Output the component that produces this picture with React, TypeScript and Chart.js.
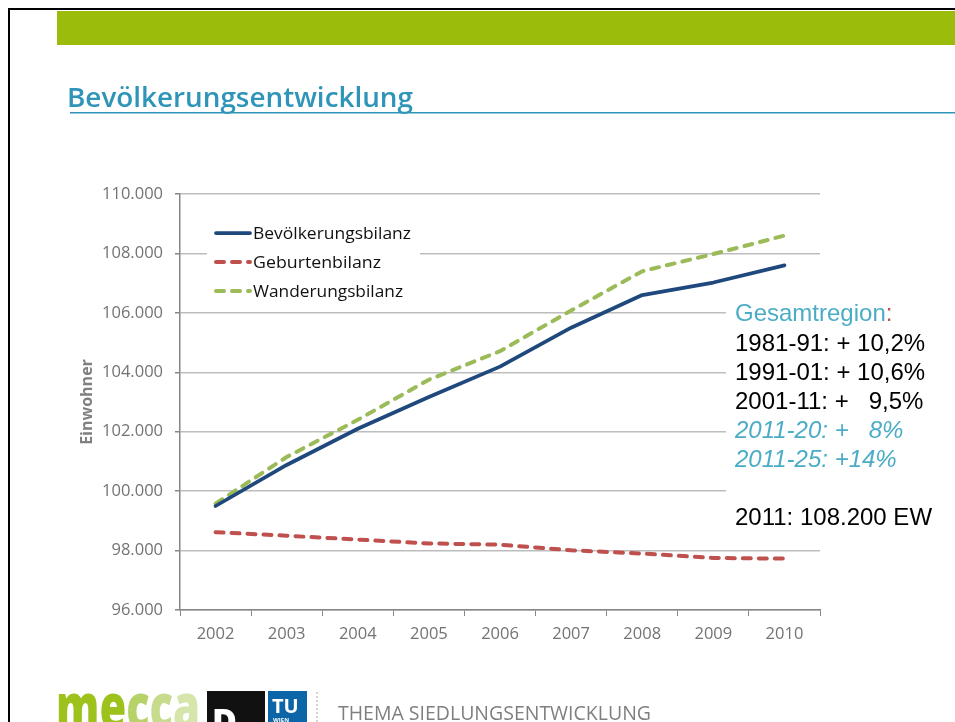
import React, { useEffect, useRef } from 'react';
import { Chart, registerables } from 'chart.js';

Chart.register(...registerables);

// ---- data ----
const years = ['2002', '2003', '2004', '2005', '2006', '2007', '2008', '2009', '2010'];
const bevoelkerungsbilanz = [99500, 100880, 102100, 103170, 104190, 105500, 106600, 107020, 107600];
const geburtenbilanz = [98620, 98500, 98370, 98240, 98200, 98010, 97900, 97750, 97730];
const wanderungsbilanz = [99580, 101150, 102400, 103750, 104710, 106080, 107400, 107980, 108600];
const yTickValues = [96000, 98000, 100000, 102000, 104000, 106000, 108000, 110000];
const yTickLabels = ['96.000', '98.000', '100.000', '102.000', '104.000', '106.000', '108.000', '110.000'];
const seriesNames = ['Bevölkerungsbilanz', 'Geburtenbilanz', 'Wanderungsbilanz'];
const axisTitle = 'Einwohner';
const slideTitle = 'Bevölkerungsentwicklung';
const footerText = 'THEMA SIEDLUNGSENTWICKLUNG';
const noteLines = ['1981-91: + 10,2%', '1991-01: + 10,6%', '2001-11: +   9,5%'];
const noteForecast = ['2011-20: +   8%', '2011-25: +14%'];
const noteTotal = '2011: 108.200 EW';

const COLORS = ['#1f497d', '#c0504d', '#9bbb59'];

export default function App() {
  const canvasRef = useRef<HTMLCanvasElement | null>(null);

  useEffect(() => {
    if (!canvasRef.current) return;
    const chart = new Chart(canvasRef.current, {
      type: 'line',
      data: {
        labels: years,
        datasets: [
          {
            label: seriesNames[0],
            data: bevoelkerungsbilanz,
            borderColor: COLORS[0],
            backgroundColor: COLORS[0],
            borderWidth: 3.75,
            pointRadius: 0,
            tension: 0,
            borderCapStyle: 'round',
            borderJoinStyle: 'round',
          },
          {
            label: seriesNames[1],
            data: geburtenbilanz,
            borderColor: COLORS[1],
            backgroundColor: COLORS[1],
            borderWidth: 4,
            borderDash: [8, 8],
            pointRadius: 0,
            tension: 0,
            borderCapStyle: 'round',
          },
          {
            label: seriesNames[2],
            data: wanderungsbilanz,
            borderColor: COLORS[2],
            backgroundColor: COLORS[2],
            borderWidth: 4,
            borderDash: [8, 8],
            pointRadius: 0,
            tension: 0,
            borderCapStyle: 'round',
          },
        ],
      },
      options: {
        responsive: false,
        animation: false,
        devicePixelRatio: 1,
        layout: { padding: { left: 74, right: 135, top: 194, bottom: 72 } },
        plugins: { legend: { display: false }, tooltip: { enabled: false } },
        scales: {
          x: {
            type: 'category',
            offset: true,
            grid: {
              display: true,
              drawOnChartArea: false,
              drawTicks: true,
              tickLength: 6,
              offset: true,
              color: '#868686',
              lineWidth: 1,
            },
            border: { color: '#868686', width: 1.5 },
            ticks: {
              color: '#737373',
              font: { family: 'Open Sans', size: 16.5 },
              padding: 8,
              maxRotation: 0,
            },
            afterFit: (s: any) => {
              s.height = 40;
            },
          },
          y: {
            min: 96000,
            max: 110000,
            afterBuildTicks: (s: any) => {
              s.ticks = yTickValues.map((v) => ({ value: v }));
            },
            ticks: {
              color: '#737373',
              font: { family: 'Open Sans', size: 16.5 },
              padding: 12,
              callback: (v: any) => {
                const i = yTickValues.indexOf(Number(v));
                return i >= 0 ? yTickLabels[i] : '';
              },
            },
            grid: {
              color: '#bdbdbd',
              lineWidth: 1.5,
              tickLength: 5,
              tickColor: '#868686',
            },
            border: { color: '#868686', width: 1.5 },
            title: {
              display: true,
              text: axisTitle,
              color: '#808080',
              font: { family: 'Open Sans', size: 16, weight: '700' },
              padding: { top: 4, bottom: 4 },
            },
            afterFit: (s: any) => {
              s.width = 106;
            },
          },
        },
      },
    });
    return () => chart.destroy();
  }, []);

  const legendRows = [233, 262, 291];
  const legendWidths = [158, 128, 150];

  return (
    <div
      style={{
        position: 'absolute',
        left: 0,
        top: 0,
        width: 955,
        height: 722,
        overflow: 'hidden',
        background: '#ffffff',
      }}
    >
      <canvas ref={canvasRef} width={955} height={722} style={{ position: 'absolute', left: 0, top: 0 }} />
      <svg
        width={955}
        height={722}
        style={{ position: 'absolute', left: 0, top: 0, pointerEvents: 'none' }}
      >
        {/* slide frame */}
        <rect x={8} y={8} width={947} height={2} fill="#000" />
        <rect x={8} y={8} width={2} height={714} fill="#000" />
        {/* green header bar */}
        <rect x={57} y={11} width={898} height={34} fill="#9bbc0a" />
        {/* title */}
        <text
          x={67}
          y={107}
          fontFamily="Open Sans"
          fontWeight={600}
          fontSize={27}
          fill="#2f95b8"
          textLength={346}
          lengthAdjust="spacingAndGlyphs"
        >
          {slideTitle}
        </text>
        <rect x={70} y={112} width={885} height={1.5} fill="#2f95b8" />

        {/* legend */}
        <rect x={207} y={212} width={213} height={92} fill="#fff" />
        {seriesNames.map((name, i) => (
          <g key={name}>
            <line
              x1={216}
              x2={250}
              y1={legendRows[i]}
              y2={legendRows[i]}
              stroke={COLORS[i]}
              strokeWidth={i === 0 ? 3.75 : 4}
              strokeLinecap="round"
              strokeDasharray={i === 0 ? undefined : '8 8'}
            />
            <text
              x={253}
              y={legendRows[i] + 6}
              fontFamily="Open Sans"
              fontSize={16.5}
              fill="#111"
              textLength={legendWidths[i]}
              lengthAdjust="spacingAndGlyphs"
            >
              {name}
            </text>
          </g>
        ))}

        {/* annotation */}
        <rect x={726} y={298} width={229} height={238} fill="#fff" />
        <g fontFamily="Liberation Sans, Arial, sans-serif" fontSize={24}>
          <text x={735} y={321} fill="#4bacc6" xmlSpace="preserve">
            Gesamtregion<tspan fill="#c0504d">:</tspan>
          </text>
          {noteLines.map((t, i) => (
            <text key={t} x={735} y={351 + i * 29} fill="#000" xmlSpace="preserve" style={{ whiteSpace: 'pre' }}>
              {t}
            </text>
          ))}
          {noteForecast.map((t, i) => (
            <text
              key={t}
              x={735}
              y={438 + i * 29}
              fill="#4bacc6"
              fontStyle="italic"
              xmlSpace="preserve"
              style={{ whiteSpace: 'pre' }}
            >
              {t}
            </text>
          ))}
          <text x={735} y={525} fill="#000">
            {noteTotal}
          </text>
        </g>

        {/* footer logos */}
        <text
          x={56}
          y={729}
          fontFamily="Open Sans"
          fontWeight={800}
          fontSize={64}
          textLength={144}
          lengthAdjust="spacingAndGlyphs"
        >
          <tspan fill="#9dc21b">me</tspan>
          <tspan fill="#b6d268">c</tspan>
          <tspan fill="#c6dc8c">c</tspan>
          <tspan fill="#d6e6aa">a</tspan>
        </text>
        <rect x={207} y={691} width={58} height={31} fill="#111" />
        <text x={212} y={733} fontFamily="Open Sans" fontWeight={800} fontSize={34} fill="#fff">
          D
        </text>
        <rect x={268} y={691} width={39} height={31} fill="#0b65a6" />
        <text x={272} y={713} fontFamily="Open Sans" fontWeight={700} fontSize={20} fill="#fff">
          TU
        </text>
        <text x={273} y={722} fontFamily="Open Sans" fontWeight={700} fontSize={6} fill="#fff">
          WIEN
        </text>
        <line x1={317} x2={317} y1={692} y2={722} stroke="#aaa" strokeWidth={1} strokeDasharray="2 2" />
        <text
          x={338}
          y={720}
          fontFamily="Open Sans"
          fontSize={20}
          fill="#7f7f7f"
          textLength={313}
          lengthAdjust="spacingAndGlyphs"
        >
          {footerText}
        </text>
      </svg>
    </div>
  );
}
